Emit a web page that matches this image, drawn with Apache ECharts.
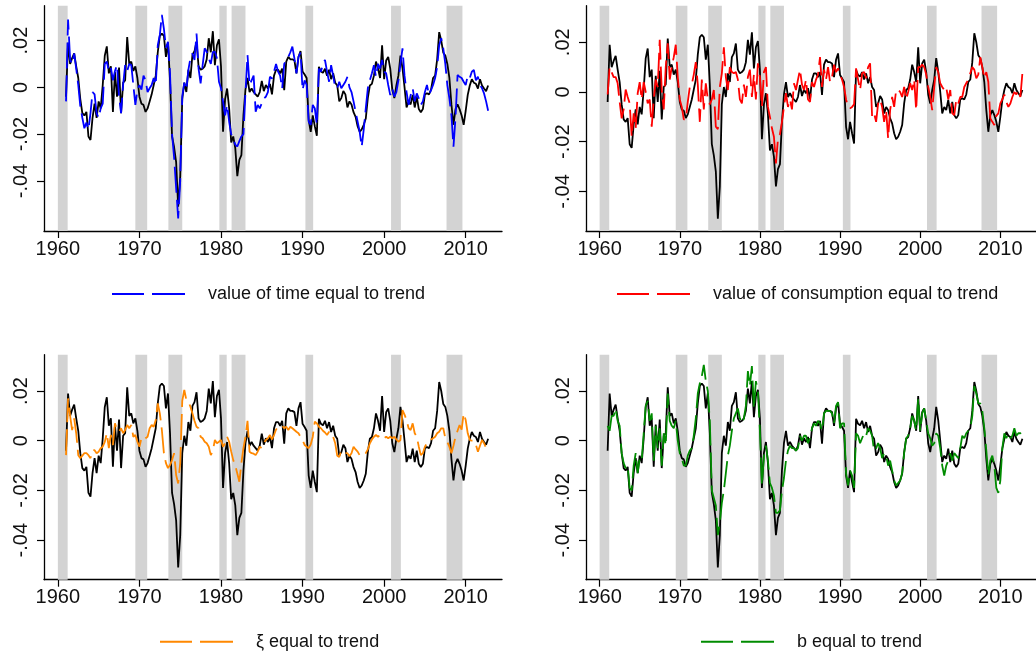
<!DOCTYPE html>
<html>
<head>
<meta charset="utf-8">
<script src="https://cdn.jsdelivr.net/npm/echarts@6/dist/echarts.min.js"></script>
<style>
html,body{margin:0;padding:0;background:#fff;}
#chart{width:1036px;height:653px;}
</style>
</head>
<body>
<div id="chart"></div>
<script>
// ---------- DATA ----------
const startYear = 1961;           // first observation (quarterly, 1961Q1 .. 2012Q4)
const xTickValues = [1960, 1970, 1980, 1990, 2000, 2010];
const yTickValues = [-0.04, -0.02, 0, 0.02];
const yTickLabels = ['-.04', '-.02', '0', '.02'];
const recessions = [
  [1960.0, 1961.2], [1969.5, 1970.95], [1973.55, 1975.25], [1979.8, 1980.7],
  [1981.3, 1983.0], [1990.35, 1991.3], [2000.85, 2002.05], [2007.65, 2009.6]
];
const seriesNames = [
  'value of time equal to trend',
  'value of consumption equal to trend',
  '\u03be equal to trend',
  'b equal to trend'
];

// actual (black) series
const actual = [
  -.004, .019, .010, .0125,
  .0145, .009, .004, -.005,
  -.011, -.012, -.0105, -.021,
  -.0225, -.013, -.007, -.013,
  -.006, -.009, .001, .0135,
  .0175, .006, .009, -.0105,
  .0065, -.004, .0085, -.011,
  .002, .003, .0215, .010,
  .011, .007, .009, .004,
  -.004, -.007, -.0075, -.0105,
  -.009, -.006, -.003, .001,
  .005, .015, .022, .023,
  .022, .013, .019, .003,
  -.021, -.0255, -.032, -.051,
  -.038, -.005, .002, -.002,
  .0075, .004, .014, .0155,
  .0195, .009, .0075, .008,
  .009, .012, .021, .015,
  .024, .0095, .018, .0205,
  .009, -.019, -.005, -.0005,
  -.009, -.0235, -.021, -.026,
  -.038, -.031, -.029, -.012,
  -.001, .004, -.002, -.0005,
  -.002, -.003, -.004, -.002,
  .0028, -.0016, .001, -.0005,
  .0015, -.003, .005, .0075,
  .0075, .006, .008, -.0012,
  .011, .013, .012, .012,
  .0115, .006, .013, .0155,
  .0068, .0055, .004, -.014,
  -.019, -.012, -.0166, -.0207,
  .0088, .0068, .0062, .008,
  .005, .0075, .0035, .006,
  .002, .0008, -.006, -.0046,
  -.0016, -.003, -.0086, -.006,
  -.0073, -.0106, -.0126, -.0166,
  -.019, -.018, -.016, -.0133,
  -.0046, .0008, .0015, .005,
  .011, .008, .004, .018,
  .0035, .0115, .013, .008,
  -.001, -.0046, .0008, .005,
  .0136, .0082, .0001, -.0086,
  -.006, -.0073, -.0032, -.0086,
  -.004, -.0093, -.0106, -.0093,
  -.003, -.0025, -.003, -.001,
  .004, .005, .012, .0236,
  .020, .0148, .0136, .010,
  .004, -.0073, -.016, -.0093,
  -.0073, -.0093, -.012, -.016,
  -.010, -.0032, .0008, .0035,
  .002, .0015, -.0005, .0035,
  .0008, -.0005, -.0016, .0008
];

// value of time equal to trend (blue)
const timeTrend = [
  -.006, .029, .012, .010,
  .0145, .008, .001, -.008,
  -.013, -.0175, -.015, -.018,
  -.011, -.002, -.003, -.011,
  -.013, -.009, -.007, .010,
  .011, .007, .0085, .003,
  .007, .0095, -.004, -.011,
  .001, .0095, .007, .010,
  .0095, .001, -.0075, -.001,
  .001, -.001, .005, .003,
  -.002, -.0004, .001, .004,
  .001, .018, .0224, .031,
  .025, .017, .0195, .006,
  -.020, -.030, -.043, -.056,
  -.040, -.004, .002, -.001,
  .0075, .0125, .0145, .0117,
  .023, .008, .0017, .0095,
  .0167, .0152, .0124, .010,
  .0152, .0152, .0124, .0024,
  -.0004, -.006, -.012, -.0075,
  -.0147, -.020, -.022, -.0245,
  -.0253, -.023, -.021, -.020,
  -.002, .0138, .001, .003,
  .005, -.0104, -.0075, -.009,
  -.0068, -.0047, -.004, -.002,
  .0045, .0038, .0067, .010,
  .0067, .005, -.0005, .010,
  .0117, .013, .015, .0174,
  .0124, .006, .013, .015,
  -.0012, .003, .001, -.0147,
  -.016, -.0075, -.009, -.016,
  .008, .0067, .010, .0117,
  .0067, .0024, .0095, .005,
  .0, -.0004, .0024, -.0004,
  .001, .0024, .0045, .0,
  -.002, -.006, -.0104, -.0147,
  -.019, -.0254, -.018, -.009,
  -.0004, .003, .006, .0095,
  .0045, .010, .008, .0117,
  .0067, .006, .001, -.0033,
  -.0004, -.004, -.002, .003,
  .010, .0167, .005, -.002,
  -.0075, -.0033, -.0004, -.006,
  -.0026, -.0047, -.0075, -.006,
  -.002, .001, -.0033, -.0012,
  .001, .004, .0088, .018,
  .021, .0167, .010, .001,
  -.0047, -.012, -.0254, -.013,
  .0053, .0045, .004, .0024,
  .001, .005, .004, .0067,
  .0074, .003, .0045, .001,
  -.0004, -.0026, -.006, -.010
];

// value of consumption equal to trend (red)
const consTrend = [
  -.001, .010, .008, .006,
  .006, .0035, -.004, -.0106,
  -.007, .001, -.002, -.0046,
  -.018, -.0086, -.0146, -.0005,
  .004, -.003, .004, 0,
  -.0046, -.003, -.014, -.003,
  .005, .002, .021, .0008,
  -.007, .010, .0196, .005,
  .010, .014, .019, .006,
  -.003, -.006, -.011, -.011,
  -.004, .002, .003, .007,
  .012, .003, -.012, .005,
  -.007, .0035, -.003, -.005,
  -.003, .0008, -.014, -.015,
  .002, .0075, .018, .006,
  .0008, .010, .008, .0075,
  .008, .005, -.003, -.0046,
  .003, -.002, .006, .009,
  -.002, .007, -.003, .0115,
  .006, -.006, .008, .010,
  -.006, -.010, -.0146, -.018,
  -.0287, -.019, -.017, -.012,
  -.006, -.0005, -.006, -.003,
  -.007, .0035, .0008, .005,
  .009, .003, .0008, .005,
  -.003, -.004, .004, .002,
  .005, .007, .014, .002,
  .009, .005, .010, .004,
  .006, .011, .008, .0095,
  .007, .005, .002, -.003,
  -.006, -.0066, -.006, -.005,
  .0095, .005, .0008, .0075,
  .008, .0055, .010, .0115,
  -.010, -.0086, -.012, -.0046,
  -.003, -.006, -.012, -.0073,
  -.0187, -.0073, -.002, -.006,
  .0008, .001, 0, -.002,
  .002, -.003, 0, .0035,
  .0008, .005, -.0073, .010,
  .010, .011, .010, .007,
  .002, -.002, -.0073, .002,
  .010, .008, .0035, .002,
  .0008, .002, -.003, .0008,
  -.0086, -.0093, -.003, -.0046,
  -.002, -.002, .002, .0035,
  .005, .0075, .010, .009,
  .0055, .007, .014, .010,
  .0055, .008, .004, -.0106,
  -.012, -.0133, -.0096, -.0086,
  -.0046, -.003, -.001, -.004,
  -.006, -.0046, -.002, 0,
  -.001, .0008, -.002, .0075
];

// xi equal to trend (orange)
const xiTrend = [
  -.0058, .017, .010, .0043,
  .009, .003, -.0058, -.007,
  -.006, -.005, -.005, -.0058,
  -.007, -.0038, -.0038, -.005,
  -.0044, -.003, -.0024, -.0005,
  .003, -.003, .0023, -.0017,
  .007, .0043, .0036, .005,
  .003, .0043, .0063, .005,
  .0063, .0016, .0023, -.0004,
  -.0024, .001, .0003, .001,
  .0016, .005, .0063, .0056,
  .0083, .015, .011, .0043,
  -.005, -.009, -.011, -.0098,
  -.0078, -.005, -.0138, -.0172,
  -.009, .016, .0204, .0164,
  .0157, .0137, .011, .008,
  .0056, .005, .0016, .001,
  -.0004, -.001, -.0024, -.0058,
  -.004, .0003, -.001, -.0004,
  .0003, -.0024, -.001, .0016,
  -.0004, -.0044, -.0078, -.010,
  -.0132, -.0165, -.009, -.003,
  .0015, .008, -.0044, -.005,
  -.0052, -.0058, -.0044, -.0024,
  -.003, -.001, .0003, .001,
  .0023, .0005, .0023, .0045,
  .0056, .0056, .006, .005,
  .0056, .0043, .0056, .005,
  .0043, .0036, .003, .0016,
  .0003, -.0017, -.0024, -.003,
  -.0015, .0016, .0077, .007,
  .0056, .005, .004, .0033,
  .0023, .0036, .0016, .0016,
  -.001, -.006, -.0065, -.004,
  -.0044, -.005, -.005, -.0062,
  -.005, -.0024, -.0035, -.0044,
  -.0058, -.0055, -.0058, -.005,
  -.0035, -.001, .0005, .0016,
  .0023, .0016, .0023, .0016,
  .001, .0016, .001, .0016,
  .001, .0016, .0005, -.0004,
  .0003, .0123, .0105, .0083,
  .005, .0043, .007, .003,
  .0016, -.0024, -.0058, -.005,
  -.0024, -.001, .0003, .0005,
  .001, .0016, .003, .0036,
  .005, .005, .001, -.0005,
  -.0024, -.005, -.002, .0016,
  .004, .0063, .0045, .011,
  .0083, .003, .0003, 0,
  0, -.0017, -.0044, -.002,
  .0003, -.001, -.003, -.004
];

// b equal to trend (green)
const bTrend = [
  .006, .004, .010, .010,
  .013, .008, .006, -.005,
  -.009, -.011, -.010, -.019,
  -.020, -.010, -.005, -.013,
  -.007, -.008, .003, .014,
  .016, .008, .011, -.008,
  .006, -.003, .005, -.010,
  .003, -.002, .019, .008,
  .006, .005, .008, .0,
  -.005, -.007, -.010, -.010,
  -.006, -.004, -.003, .002,
  .009, .019, .023, .026,
  .0305, .024, .020, .008,
  -.020, -.023, -.026, -.038,
  -.033, -.025, -.020, -.013,
  -.006, -.002, .004, .009,
  .011, .013, .009, .007,
  .009, .014, .028, .022,
  .030, .013, .024, .020,
  .004, -.018, -.006, -.002,
  -.008, -.017, -.019, -.022,
  -.029, -.029, -.028, -.020,
  -.015, -.008, -.004, -.002,
  -.003, -.003, -.004, -.003,
  .002, .0, .002, .002,
  -.001, .001, .005, .007,
  .006, .008, .007, .004,
  .011, .012, .012, .012,
  .011, .007, .014, .0155,
  .005, .007, .007, -.013,
  -.018, -.012, -.014, -.019,
  .003, .002, -.001, .001,
  .003, .002, .005, .004,
  .002, -.004, -.003, -.001,
  -.003, -.007, -.005, -.006,
  -.010, -.008, -.012, -.016,
  -.018, -.017, -.016, -.013,
  -.005, .001, .002, .005,
  .010, .008, .004, .017,
  .004, .011, .013, .008,
  .003, .001, -.002, -.001,
  .003, .002, -.003, -.010,
  -.014, -.010, -.008, -.005,
  -.008, -.005, -.006, -.007,
  -.003, .002, .001, .003,
  .004, .005, .010, .022,
  .019, .015, .015, .012,
  .005, -.004, -.014, -.008,
  -.006, -.010, -.019, -.021,
  -.016, -.003, .003, .001,
  .003, .001, .002, .005,
  .002, .003, .003, .004
];

// ---------- CHART ----------
const FONT = '"Liberation Sans", Arial, Helvetica, sans-serif';
const toPairs = arr => arr.map((v, i) => [startYear + i / 4, v]);
const altSeries = [timeTrend, consTrend, xiTrend, bTrend];
const colors = ['#0000ff', '#ff0000', '#ff8800', '#008c00'];

const grids = [
  {left: 44, top: 5.7, width: 458, height: 225.3},
  {left: 586, top: 5.7, width: 458, height: 225.3},
  {left: 44, top: 354.7, width: 458, height: 225},
  {left: 586, top: 354.7, width: 458, height: 225}
];
const yRanges = [[-0.0614, 0.0349], [-0.0559, 0.0347], [-0.0559, 0.0346], [-0.0559, 0.0346]];
const legendPos = [[112, 285], [617, 285], [160, 632.7], [701, 632.7]];

const xAxis = grids.map((g, i) => ({
  gridIndex: i, type: 'value', min: 1958.3, max: 2014.45,
  axisLine: {onZero: false, lineStyle: {color: '#000', width: 1.3}},
  axisTick: {customValues: xTickValues, length: 7, lineStyle: {color: '#000', width: 1.2}},
  axisLabel: {customValues: xTickValues, formatter: v => String(v), fontSize: 20,
              color: '#111', margin: 8, fontFamily: FONT},
  splitLine: {show: false}
}));
const yAxis = grids.map((g, i) => ({
  gridIndex: i, type: 'value', min: yRanges[i][0], max: yRanges[i][1],
  axisLine: {show: true, onZero: false, lineStyle: {color: '#000', width: 1.3}},
  axisTick: {show: true, customValues: yTickValues, length: 7, lineStyle: {color: '#000', width: 1.2}},
  axisLabel: {customValues: yTickValues, rotate: 90, fontSize: 20, color: '#111', margin: 13,
              fontFamily: FONT,
              formatter: v => { const k = yTickValues.findIndex(t => Math.abs(t - v) < 1e-9); return k >= 0 ? yTickLabels[k] : ''; }},
  splitLine: {show: false}
}));

const series = [];
grids.forEach((g, i) => {
  series.push({
    type: 'custom', xAxisIndex: i, yAxisIndex: i, z: 1, silent: true,
    data: recessions.map(r => [r[0], r[1], 0]),
    encode: {x: [0, 1], y: 2},
    renderItem: (params, api) => {
      const a = api.coord([api.value(0), 0]);
      const b = api.coord([api.value(1), 0]);
      const cs = params.coordSys;
      return {type: 'rect', shape: {x: a[0], y: cs.y, width: b[0] - a[0], height: cs.height},
              style: {fill: '#d3d3d3'}};
    }
  });
  series.push({
    name: 'actual', type: 'line', xAxisIndex: i, yAxisIndex: i, z: 3,
    data: toPairs(actual), symbol: 'none', silent: true,
    lineStyle: {color: '#000', width: 1.8}
  });
  series.push({
    name: seriesNames[i], type: 'line', xAxisIndex: i, yAxisIndex: i, z: 4,
    data: toPairs(altSeries[i]), symbol: 'none', silent: true,
    itemStyle: {color: colors[i]},
    lineStyle: {color: colors[i], width: 1.8, type: [26, 7]}
  });
});

const legend = seriesNames.map((n, i) => ({
  data: [{name: n, icon: 'path://M0 0H32V2H0Z M40 0H73V2H40Z'}],
  left: legendPos[i][0], top: legendPos[i][1], padding: 0,
  itemWidth: 73, itemHeight: 2, selectedMode: false,
  itemStyle: {borderWidth: 0},
  textStyle: {fontSize: 18, color: '#111', fontFamily: FONT, padding: [0, 0, 0, 18]}
}));

const chart = echarts.init(document.getElementById('chart'), null, {renderer: 'canvas'});
chart.setOption({
  animation: false,
  backgroundColor: '#fff',
  grid: grids.map(g => Object.assign({containLabel: false}, g)),
  xAxis, yAxis, series, legend
});
</script>
</body>
</html>
